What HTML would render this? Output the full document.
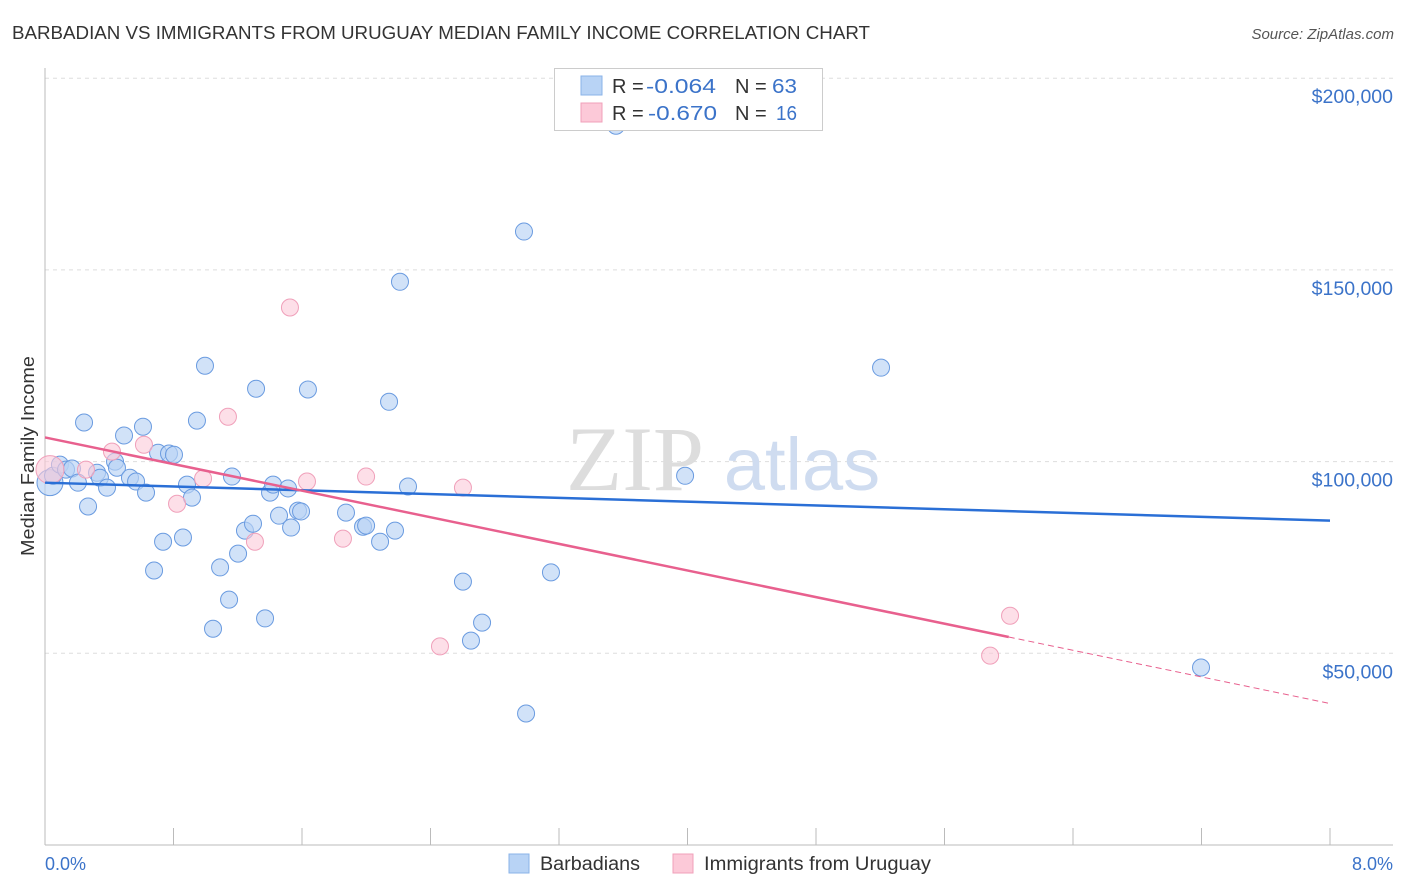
<!DOCTYPE html>
<html><head><meta charset="utf-8"><style>
body{margin:0;background:#fff;font-family:"Liberation Sans",sans-serif;}
svg{display:block}
</style></head><body>
<svg id="chart" width="1406" height="892" xmlns="http://www.w3.org/2000/svg">
<text x="12" y="39" font-size="18" fill="#333" textLength="858" lengthAdjust="spacingAndGlyphs">BARBADIAN VS IMMIGRANTS FROM URUGUAY MEDIAN FAMILY INCOME CORRELATION CHART</text>
<text x="1394" y="39" font-size="15" fill="#555" font-style="italic" text-anchor="end">Source: ZipAtlas.com</text>
<g id="grid"></g>
<g><text x="635" y="490" font-size="92" font-family="Liberation Serif,serif" fill="#ddd" text-anchor="middle">ZIP</text><text x="802" y="490" font-size="74" fill="#cfdcf0" text-anchor="middle">atlas</text></g>
<line x1="45" y1="68" x2="45" y2="845" stroke="#bbb"/>
<line x1="45" y1="845" x2="1393" y2="845" stroke="#bbb"/>
<g id="xticks"></g>
<g id="yticks"></g>
<text x="34" y="456" font-size="18" fill="#333" text-anchor="middle" textLength="200" lengthAdjust="spacingAndGlyphs" transform="rotate(-90 34 456)">Median Family Income</text>
<text x="45" y="870" font-size="18" fill="#3b73c9">0.0%</text>
<text x="1393" y="870" font-size="18" fill="#3b73c9" text-anchor="end">8.0%</text>
<g id="pts"></g>
<g id="trends"></g>
<g>
<rect x="554.5" y="68.5" width="268" height="62" fill="#fff" stroke="#ccc"/>
<rect x="581" y="76" width="21" height="19" fill="#b8d3f5" stroke="#8ab3e8"/>
<rect x="581" y="103" width="21" height="19" fill="#fcc9d8" stroke="#f0a0ba"/>
<text x="612" y="93" font-size="20" fill="#333">R = </text>
<text x="646" y="93" font-size="20" fill="#3b73c9" textLength="70" lengthAdjust="spacingAndGlyphs">-0.064</text>
<text x="735" y="93" font-size="20" fill="#333">N = </text>
<text x="772" y="93" font-size="20" fill="#3b73c9" textLength="25" lengthAdjust="spacingAndGlyphs">63</text>
<text x="612" y="120" font-size="20" fill="#333">R = </text>
<text x="648" y="120" font-size="20" fill="#3b73c9" textLength="69" lengthAdjust="spacingAndGlyphs">-0.670</text>
<text x="735" y="120" font-size="20" fill="#333">N = </text>
<text x="776" y="120" font-size="20" fill="#3b73c9" textLength="21" lengthAdjust="spacingAndGlyphs">16</text>
</g>
<g>
<rect x="509" y="854" width="20" height="19" fill="#b8d3f5" stroke="#8ab3e8"/>
<text x="540" y="870" font-size="19" fill="#333" textLength="100" lengthAdjust="spacingAndGlyphs">Barbadians</text>
<rect x="673" y="854" width="20" height="19" fill="#fcc9d8" stroke="#f0a0ba"/>
<text x="704" y="870" font-size="19" fill="#333" textLength="227" lengthAdjust="spacingAndGlyphs">Immigrants from Uruguay</text>
</g>
</svg>
<script>
const blueX=[0.031,0.050,0.093,0.131,0.168,0.205,0.268,0.243,0.324,0.342,0.386,0.436,0.448,0.492,0.529,0.567,0.610,0.629,0.679,0.704,0.735,0.772,0.803,0.859,0.884,0.915,0.946,0.996,1.046,1.090,1.146,1.164,1.202,1.245,1.295,1.314,1.370,1.401,1.420,1.457,1.513,1.532,1.575,1.594,1.637,1.874,1.980,1.999,2.086,2.142,2.179,2.210,2.260,2.602,2.652,2.721,2.982,2.995,3.150,3.555,3.985,5.205,7.197];
const blueY=[94.5,96.3,99.2,97.9,98.2,94.5,88.3,110.2,97.1,95.8,93.2,100.0,98.4,106.8,95.8,94.8,109.1,91.9,71.6,102.3,79.1,102.1,101.8,80.2,94.0,90.6,110.7,125.0,56.4,72.4,64.0,96.1,76.0,82.0,83.8,119.0,59.1,91.9,94.0,85.9,93.0,82.8,87.2,87.0,118.8,86.7,83.0,83.3,79.1,115.6,82.0,146.9,93.5,68.7,53.3,58.0,160.0,34.3,71.1,187.6,96.3,124.5,46.3];
const pinkX=[0.031,0.255,0.417,0.616,0.822,0.984,1.139,1.307,1.525,1.631,1.855,1.999,2.459,2.602,5.884,6.008];
const pinkY=[97.9,97.9,102.6,104.4,89.0,95.6,111.7,79.1,140.2,94.8,79.9,96.1,51.8,93.2,49.4,59.8];
const blueTrend=[94.5,84.6];
const pinkTrend=[106.3,36.9];
const pinkSolidEnd=6.0;
const yTicks=[50,100,150,200];
const yTickLabels=["$50,000","$100,000","$150,000","$200,000"];
const xTicks=[0.8,1.6,2.4,3.2,4.0,4.8,5.6,6.4,7.2,8.0];
const NS="http://www.w3.org/2000/svg";
const sx=v=>45+v/8*1285;
const sy=v=>845-v*3.834;
function mk(t,a,p){const e=document.createElementNS(NS,t);for(const k in a)e.setAttribute(k,a[k]);p.appendChild(e);return e;}
const grid=document.getElementById('grid'),yt=document.getElementById('yticks'),xt=document.getElementById('xticks');
yTicks.forEach((v,i)=>{
 const l=mk('line',{x1:45,x2:1393,y1:sy(v),y2:sy(v),stroke:'#ddd','stroke-dasharray':'4,4'},grid);
 
 
 const t=mk('text',{x:1393,y:sy(v)+25,'font-size':19.5,fill:'#3b73c9','text-anchor':'end'},yt);
 t.textContent=yTickLabels[i];
 
 
});
xTicks.forEach(v=>{
 const l=mk('line',{x1:sx(v),x2:sx(v),y1:828,y2:845,stroke:'#bbb'},xt);
 
 
});
const pts=document.getElementById('pts');
blueX.forEach((x,i)=>{
 const c=mk('circle',{cx:sx(x),cy:sy(blueY[i]),r:i==0?13:8.5,fill:'#b8d3f5','fill-opacity':0.65,stroke:'#6a9be0','stroke-width':1},pts);
 
 
});
pinkX.forEach((x,i)=>{
 const c=mk('circle',{cx:sx(x),cy:sy(pinkY[i]),r:i==0?14:8.5,fill:'#fcc9d8','fill-opacity':0.6,stroke:'#f0a0ba','stroke-width':1},pts);
 
 
});
const tr=document.getElementById('trends');
const bl=mk('line',{x1:sx(0),y1:sy(blueTrend[0]),x2:sx(8),y2:sy(blueTrend[1]),stroke:'#2a6fd6','stroke-width':2.5},tr);


const pAt=x=>pinkTrend[0]+(pinkTrend[1]-pinkTrend[0])*x/8;
const pl=mk('line',{x1:sx(0),y1:sy(pAt(0)),x2:sx(pinkSolidEnd),y2:sy(pAt(pinkSolidEnd)),stroke:'#e8608e','stroke-width':2.5},tr);


const pd=mk('line',{x1:sx(pinkSolidEnd),y1:sy(pAt(pinkSolidEnd)),x2:sx(8),y2:sy(pAt(8)),stroke:'#e8608e','stroke-width':1,'stroke-dasharray':'6,4'},tr);


</script>
</body></html>
